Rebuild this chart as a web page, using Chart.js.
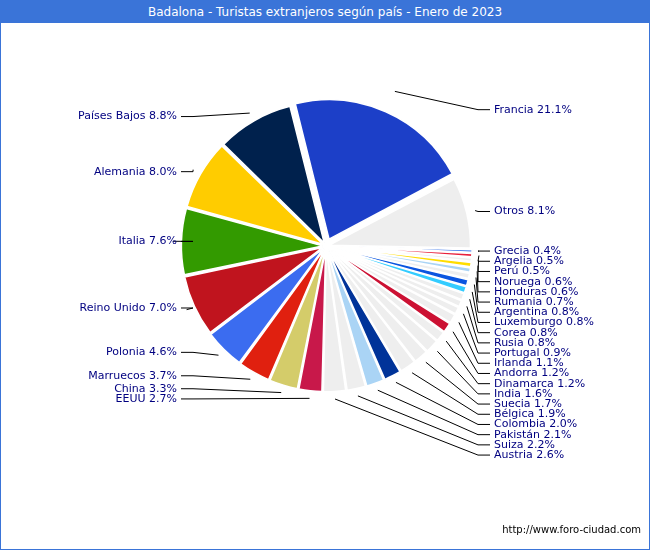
<!DOCTYPE html>
<html>
<head>
<meta charset="utf-8">
<script src="https://cdn.jsdelivr.net/npm/chart.js@4"></script>
<style>
  body { margin: 0; background: #fff; }
  #wrap { position: relative; width: 648px; height: 548px; border: 1px solid #3a74d8; }
  #title { height: 22px; background: #3a74d8; color: #fff; font: 12px "DejaVu Sans", sans-serif; text-align: center; line-height: 22px; }
  #foot { position: absolute; right: 8px; bottom: 14px; font: 10px "DejaVu Sans", sans-serif; color: #000; }
  canvas { position: absolute; left: 0; top: 0; }
</style>
</head>
<body>
<div id="wrap">
  <div id="title">Badalona - Turistas extranjeros según país - Enero de 2023</div>
  <canvas id="c" width="648" height="548"></canvas>
  <div id="foot">http://www.foro-ciudad.com</div>
</div>
<script>
// ---- Data ------------------------------------------------------------------
const countries = ["Francia", "Otros", "Grecia", "Argelia", "Perú", "Noruega", "Honduras", "Rumania",
  "Argentina", "Luxemburgo", "Corea", "Rusia", "Portugal", "Irlanda", "Andorra", "Dinamarca", "India",
  "Suecia", "Bélgica", "Colombia", "Pakistán", "Suiza", "Austria", "EEUU", "China", "Marruecos",
  "Polonia", "Reino Unido", "Italia", "Alemania", "Países Bajos"];
const shares = [21.1, 8.1, 0.4, 0.5, 0.5, 0.6, 0.6, 0.7, 0.8, 0.8, 0.8, 0.8, 0.9, 1.1, 1.2, 1.2, 1.6,
  1.7, 1.9, 2.0, 2.1, 2.2, 2.6, 2.7, 3.3, 3.7, 4.6, 7.0, 7.6, 8.0, 8.8];
const colors = ["#1c3fc8", "#eeeeee", "#2a6ae8", "#e8203c", "#eeeeee", "#ffdd00", "#aad4f5", "#eeeeee",
  "#0a55e0", "#33ccff", "#eeeeee", "#eeeeee", "#eeeeee", "#eeeeee", "#cc1133", "#eeeeee", "#eeeeee",
  "#eeeeee", "#eeeeee", "#003399", "#aad4f5", "#eeeeee", "#eeeeee", "#c8184a", "#d4cc6a", "#e0200f",
  "#3b6cf0", "#c0141e", "#339a00", "#ffcc00", "#00214d"];
const offsets = shares.map((s, i) => (i === 0 ? 30 : 14));

// ---- Labels with leader lines ---------------------------------------------
const leaderLabels = {
  id: "leaderLabels",
  afterDraw(chart) {
    const ctx = chart.ctx;
    const arcs = chart.getDatasetMeta(0).data;
    const items = arcs.map((a, i) => {
      const mid = (a.startAngle + a.endAngle) / 2;
      const r = a.outerRadius + offsets[i];
      const px = a.x + Math.cos(mid) * r, py = a.y + Math.sin(mid) * r;
      const right = Math.cos(mid) >= 0;
      return { i, px, py, right, y: a.y + Math.sin(mid) * (a.outerRadius + 10) };
    });
    const gap = 10.2;
    [true, false].forEach((side) => {
      const list = items.filter((it) => it.right === side).sort((a, b) => a.y - b.y);
      for (let k = 1; k < list.length; k++) {
        if (list[k].y < list[k - 1].y + gap) list[k].y = list[k - 1].y + gap;
      }
    });
    ctx.save();
    ctx.font = '11px "DejaVu Sans", sans-serif';
    ctx.textBaseline = "middle";
    ctx.lineWidth = 1;
    ctx.strokeStyle = "#000";
    items.forEach((it) => {
      const xEnd = it.right ? 489 : 180;
      const xKnee = it.right ? xEnd - 12 : xEnd + 12;
      ctx.beginPath();
      ctx.moveTo(it.px, it.py);
      ctx.lineTo(xKnee, it.y);
      ctx.lineTo(xEnd, it.y);
      ctx.stroke();
      ctx.fillStyle = "#000080";
      ctx.textAlign = it.right ? "left" : "right";
      ctx.fillText(countries[it.i] + " " + shares[it.i].toFixed(1) + "%", it.right ? xEnd + 4 : xEnd - 4, it.y);
    });
    ctx.restore();
  },
};

new Chart(document.getElementById("c"), {
  type: "pie",
  data: {
    labels: countries,
    datasets: [{ data: shares, backgroundColor: colors, borderColor: "#fff", borderWidth: 1.5, offset: offsets }],
  },
  options: {
    responsive: false,
    animation: false,
    rotation: -14,
    layout: { padding: { left: 170, right: 168, top: 90, bottom: 148 } },
    plugins: { legend: { display: false }, tooltip: { enabled: false } },
  },
  plugins: [leaderLabels],
});
</script>
</body>
</html>
